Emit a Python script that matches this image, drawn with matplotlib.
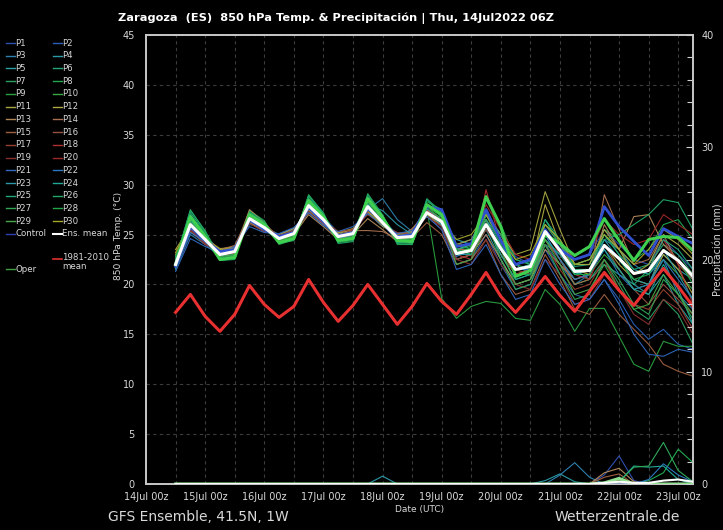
import matplotlib
matplotlib.use('Agg')
import matplotlib.pyplot as plt
import matplotlib.dates as mdates
from matplotlib.lines import Line2D
from matplotlib.ticker import MultipleLocator
import pandas as pd

# ---------------- data ----------------
TIMES = pd.date_range('2022-07-14 12:00', periods=36, freq='6h')

CLIM = [17.2, 19.0, 16.8, 15.3, 17.0, 19.9, 18.0, 16.7, 17.8, 20.5, 18.2, 16.3,
        17.9, 20.0, 18.0, 16.0, 17.8, 20.1, 18.3, 17.0, 19.0, 21.2, 18.8, 17.2,
        18.9, 20.8, 18.9, 17.3, 19.3, 21.2, 19.4, 17.9, 19.8, 21.6, 19.8, 17.8]

ENS_MEAN = [22.0, 26.0, 24.5, 23.0, 23.3, 26.6, 25.7, 24.6, 25.1, 27.9, 26.5, 24.8,
            25.1, 27.8, 26.2, 24.7, 24.8, 27.2, 26.3, 23.1, 23.4, 26.0, 23.6, 21.5,
            21.8, 25.3, 23.4, 21.3, 21.4, 23.9, 22.6, 21.1, 21.4, 23.4, 22.4, 20.8]

CONTROL = [21.8, 25.8, 24.4, 23.3, 23.5, 26.5, 25.5, 24.8, 25.2, 27.7, 26.3, 24.9,
           25.2, 27.6, 26.3, 24.8, 25.0, 27.8, 27.5, 23.8, 24.1, 27.5, 24.4, 22.0,
           22.5, 25.5, 23.5, 22.5, 23.0, 27.8, 25.8, 24.3, 22.9, 25.6, 24.8, 24.1]

OPER = [22.0, 26.8, 24.8, 22.5, 22.7, 27.0, 26.0, 24.2, 24.6, 28.4, 26.8, 24.4,
        24.6, 28.6, 26.7, 24.4, 24.3, 28.0, 27.0, 23.1, 23.5, 28.8, 25.8, 20.8,
        21.4, 25.0, 24.1, 22.9, 23.8, 26.6, 24.4, 22.4, 24.5, 24.8, 24.7, 23.4]

P1 = [21.8, 25.5, 24.2, 23.2, 23.6, 26.2, 25.4, 24.9, 25.5, 27.5, 26.0, 24.5, 25.0, 27.4, 26.5, 25.0, 25.2, 27.0,
      26.5, 24.0, 24.5, 27.2, 25.0, 22.8, 22.0, 25.0, 23.5, 22.5, 23.0, 25.5, 24.0, 22.5, 22.0, 24.5, 23.0, 21.5]
P2 = [22.3, 26.3, 24.8, 23.4, 23.0, 26.9, 26.0, 24.3, 24.8, 28.2, 26.8, 25.2, 25.4, 28.1, 26.0, 24.4, 24.5, 27.5,
      25.8, 22.0, 22.5, 25.0, 22.0, 19.5, 20.0, 23.5, 21.0, 19.0, 18.5, 20.5, 18.5, 16.0, 14.5, 15.5, 14.0, 13.5]
P3 = [21.5, 25.0, 24.0, 22.8, 23.5, 26.0, 25.8, 25.0, 25.6, 27.4, 26.3, 24.9, 25.4, 27.5, 28.6, 26.5, 25.3, 27.0,
      26.8, 23.8, 24.0, 26.5, 24.5, 22.0, 21.0, 24.0, 22.0, 20.0, 21.0, 24.5, 23.5, 22.0, 21.0, 22.5, 19.0, 17.5]
P4 = [22.5, 26.6, 25.0, 23.3, 23.1, 26.4, 25.5, 24.4, 24.9, 28.0, 26.6, 24.6, 24.9, 27.9, 26.1, 24.5, 24.6, 27.4,
      26.0, 22.5, 23.0, 25.5, 24.0, 22.0, 22.5, 26.0, 24.5, 22.0, 22.5, 25.0, 23.5, 21.5, 21.0, 23.0, 21.5, 20.5]
P5 = [22.2, 25.8, 24.4, 22.9, 23.2, 26.5, 25.8, 24.7, 25.2, 27.6, 26.4, 25.0, 25.3, 27.7, 26.3, 24.9, 25.0, 27.1,
      26.4, 24.5, 24.0, 25.5, 22.5, 20.0, 20.5, 24.0, 23.0, 21.5, 20.5, 22.0, 21.0, 20.0, 19.0, 21.0, 18.0, 16.0]
P6 = [22.6, 27.2, 25.2, 22.6, 22.8, 27.2, 26.2, 24.2, 24.6, 28.6, 27.0, 24.5, 24.6, 28.4, 26.8, 24.3, 24.2, 28.0,
      27.0, 23.5, 23.8, 27.0, 24.5, 22.0, 22.3, 26.5, 24.0, 21.8, 22.0, 25.0, 23.0, 21.5, 22.0, 24.0, 23.0, 21.0]
P7 = [21.9, 26.8, 24.8, 22.5, 22.9, 27.0, 25.9, 24.3, 24.7, 28.5, 26.7, 24.4, 24.7, 28.6, 26.6, 24.2, 24.1, 27.9,
      26.8, 23.0, 23.5, 26.5, 23.0, 20.5, 21.0, 25.0, 22.5, 20.0, 20.5, 22.5, 20.0, 17.5, 16.5, 18.5, 17.0, 14.0]
P8 = [22.4, 27.4, 25.4, 22.7, 22.6, 27.4, 26.4, 24.0, 24.5, 29.0, 27.1, 24.2, 24.4, 29.1, 27.0, 24.0, 24.0, 28.3,
      27.5, 24.0, 24.0, 28.5, 26.0, 22.5, 22.0, 26.0, 24.5, 22.0, 22.0, 25.5, 24.5, 22.5, 23.5, 26.0, 26.5, 24.5]
P9 = [22.0, 26.5, 24.6, 22.9, 23.0, 26.8, 25.6, 24.5, 24.8, 28.3, 26.4, 24.6, 24.8, 28.2, 26.4, 24.5, 24.5, 27.6,
      18.6, 16.6, 17.8, 18.3, 18.1, 16.6, 16.4, 19.5, 18.0, 15.3, 17.6, 17.6, 14.8, 12.0, 11.3, 14.3, 13.8, 13.8]
P10 = [22.3, 26.2, 24.7, 23.1, 23.4, 26.5, 25.6, 24.8, 25.3, 27.8, 26.4, 25.0, 25.2, 27.6, 26.2, 24.8, 24.9, 27.3,
       26.0, 23.5, 23.0, 27.0, 24.5, 22.0, 21.5, 24.5, 22.5, 20.5, 21.0, 23.0, 21.5, 19.5, 20.0, 22.5, 21.0, 19.5]
P11 = [23.0, 26.0, 24.3, 23.5, 23.8, 26.3, 25.4, 24.9, 25.4, 27.6, 26.2, 25.1, 25.5, 27.3, 25.9, 25.0, 25.2, 27.0,
       26.3, 24.0, 24.5, 27.0, 25.0, 23.0, 23.5, 29.3, 25.5, 22.0, 22.0, 25.5, 23.5, 21.0, 22.0, 25.0, 24.0, 22.5]
P12 = [23.5, 25.8, 24.6, 23.6, 23.7, 26.2, 25.3, 25.0, 25.6, 27.3, 26.0, 25.2, 25.6, 27.2, 25.8, 25.1, 25.3, 26.8,
       26.0, 23.5, 24.0, 26.5, 23.5, 21.0, 21.5, 28.0, 24.0, 21.5, 21.0, 24.0, 22.0, 20.5, 20.0, 23.0, 21.5, 19.0]
P13 = [22.8, 25.6, 24.5, 23.3, 23.5, 27.5, 26.2, 24.6, 25.0, 27.0, 25.8, 24.5, 25.0, 26.6, 25.5, 24.3, 25.5, 27.5,
       26.5, 22.5, 23.0, 25.0, 22.5, 20.0, 20.5, 23.5, 22.0, 20.5, 21.0, 26.0, 23.5, 26.8, 27.0, 24.0, 22.5, 21.0]
P14 = [22.4, 25.3, 24.1, 23.5, 23.9, 27.0, 26.0, 24.8, 25.2, 27.2, 26.0, 24.9, 25.4, 25.4, 25.3, 24.6, 25.6, 27.0,
       26.0, 23.5, 23.5, 27.0, 25.0, 21.5, 22.0, 24.5, 22.5, 20.0, 20.5, 29.0, 25.5, 22.0, 22.5, 25.0, 22.0, 20.5]
P15 = [22.6, 25.9, 24.4, 23.2, 23.4, 26.4, 25.5, 24.7, 25.0, 27.7, 26.3, 24.7, 25.0, 27.5, 26.1, 24.5, 24.7, 26.2,
       25.0, 22.0, 22.5, 24.5, 21.0, 19.0, 19.5, 23.0, 20.5, 17.5, 17.0, 19.0, 17.0, 15.5, 14.0, 12.0, 11.3, 10.8]
P16 = [22.1, 25.7, 24.3, 23.1, 23.3, 26.6, 25.7, 24.5, 25.0, 27.8, 26.5, 24.8, 25.1, 27.6, 26.3, 24.6, 24.8, 27.1,
       26.2, 23.0, 23.5, 26.0, 23.0, 21.0, 21.5, 24.5, 22.5, 20.5, 21.0, 24.0, 21.5, 19.5, 18.0, 20.0, 18.5, 17.0]
P17 = [21.7, 25.4, 24.1, 23.0, 23.2, 26.5, 25.9, 24.9, 25.3, 27.4, 26.4, 25.3, 25.5, 27.0, 26.0, 25.2, 25.1, 26.8,
       25.8, 22.5, 23.0, 25.5, 23.5, 21.5, 21.0, 24.0, 21.5, 19.5, 20.0, 22.5, 19.5, 18.0, 17.5, 19.5, 18.0, 15.5]
P18 = [22.2, 26.0, 24.8, 23.3, 23.2, 26.3, 25.5, 24.6, 24.9, 27.6, 26.5, 24.9, 25.0, 27.3, 26.4, 24.8, 24.6, 27.4,
       26.4, 23.0, 22.5, 29.5, 24.0, 21.0, 21.5, 25.5, 23.0, 21.0, 20.5, 24.0, 22.5, 21.0, 21.5, 24.5, 22.0, 18.0]
P19 = [22.0, 25.5, 24.0, 23.4, 23.6, 26.1, 25.3, 24.9, 25.4, 27.3, 26.1, 25.0, 25.4, 27.4, 26.2, 24.9, 25.1, 26.9,
       25.5, 22.5, 22.0, 24.5, 22.0, 20.0, 19.5, 22.5, 21.0, 18.0, 18.5, 21.0, 19.5, 17.0, 16.0, 18.5, 17.5, 15.0]
P20 = [22.5, 26.2, 24.7, 23.0, 23.1, 26.7, 25.8, 24.4, 24.8, 27.9, 26.7, 24.7, 24.9, 27.9, 26.5, 24.6, 24.7, 27.3,
       26.6, 24.0, 24.0, 28.0, 25.5, 23.0, 22.5, 26.0, 24.0, 22.5, 23.0, 26.5, 25.0, 24.0, 24.5, 27.0, 26.0, 25.0]
P21 = [21.3, 24.6, 23.8, 23.2, 23.8, 25.8, 25.2, 25.1, 25.7, 27.2, 25.9, 25.3, 25.8, 27.1, 25.9, 25.1, 25.4, 26.8,
       25.5, 21.5, 22.0, 24.0, 21.0, 18.5, 19.0, 22.5, 20.0, 18.0, 18.5, 20.5, 18.0, 15.0, 13.0, 12.8, 13.5, 13.2]
P22 = [21.9, 25.2, 24.3, 22.9, 23.3, 26.3, 25.6, 24.6, 25.1, 27.6, 26.2, 24.7, 25.1, 27.7, 26.3, 24.7, 24.8, 27.0,
       26.1, 22.8, 23.5, 26.0, 23.5, 21.5, 21.5, 25.0, 22.5, 20.5, 21.0, 23.5, 21.0, 19.5, 20.0, 22.5, 20.5, 18.5]
P23 = [22.1, 26.1, 24.5, 22.8, 23.0, 26.6, 25.7, 24.5, 25.0, 28.1, 26.6, 24.6, 24.9, 28.0, 27.4, 26.0, 25.0, 27.2,
       26.0, 23.0, 23.0, 26.5, 24.0, 21.5, 22.0, 25.5, 23.5, 21.0, 21.5, 24.5, 22.5, 20.5, 20.0, 23.5, 21.0, 18.5]
P24 = [22.7, 26.4, 24.9, 23.1, 23.2, 26.9, 25.9, 24.5, 24.9, 28.2, 26.8, 24.8, 25.0, 28.0, 26.4, 24.4, 24.6, 27.6,
       26.5, 23.5, 24.0, 26.0, 23.0, 20.5, 21.0, 24.5, 23.0, 21.0, 21.5, 23.5, 21.5, 19.5, 19.0, 22.0, 19.5, 16.0]
P25 = [22.2, 27.0, 25.0, 22.5, 22.7, 27.1, 26.1, 24.2, 24.6, 28.8, 27.0, 24.3, 24.5, 28.8, 26.8, 24.2, 24.3, 28.5,
       27.0, 23.0, 23.5, 27.5, 24.5, 21.5, 22.0, 26.5, 24.5, 21.5, 21.5, 25.0, 23.0, 20.0, 21.5, 24.5, 23.5, 21.5]
P26 = [22.5, 27.5, 25.3, 22.4, 22.5, 27.3, 26.3, 24.1, 24.4, 28.9, 27.2, 24.1, 24.3, 29.0, 26.9, 24.1, 24.0, 28.6,
       27.2, 23.5, 23.0, 27.0, 25.0, 22.5, 22.0, 26.0, 24.0, 22.0, 22.5, 24.5, 25.0, 26.0, 27.0, 28.5, 28.2, 25.5]
P27 = [21.6, 26.3, 24.6, 22.7, 22.9, 26.9, 25.9, 24.3, 24.6, 28.4, 26.6, 24.4, 24.6, 28.5, 26.5, 24.3, 24.4, 28.0,
       27.0, 23.0, 23.5, 26.5, 22.5, 19.5, 20.0, 24.0, 21.0, 18.5, 19.0, 22.5, 20.5, 18.0, 17.0, 20.5, 19.0, 16.5]
P28 = [22.8, 26.9, 25.1, 22.6, 22.8, 27.0, 26.0, 24.4, 24.8, 28.6, 26.9, 24.4, 24.7, 28.4, 26.7, 24.4, 24.5, 27.9,
       26.8, 24.0, 23.5, 27.0, 24.0, 21.0, 21.0, 25.5, 23.5, 21.0, 21.0, 24.0, 22.5, 20.5, 21.0, 23.5, 22.5, 20.0]
P29 = [22.1, 26.7, 24.9, 22.8, 23.0, 26.9, 26.1, 24.4, 24.9, 28.5, 26.7, 24.5, 24.8, 28.3, 26.6, 24.5, 24.6, 27.8,
       26.5, 22.0, 22.5, 26.0, 23.5, 20.0, 20.5, 24.5, 22.0, 19.0, 19.5, 22.0, 19.5, 17.5, 18.0, 21.0, 19.0, 17.0]
P30 = [23.2, 25.9, 24.5, 23.5, 23.6, 26.4, 25.5, 24.8, 25.3, 27.5, 26.2, 25.0, 25.3, 27.4, 26.0, 24.9, 25.1, 27.0,
       26.2, 24.5, 25.0, 27.0, 24.5, 22.5, 23.0, 26.0, 24.5, 22.0, 22.5, 25.0, 23.5, 22.0, 23.5, 25.5, 24.5, 23.0]

MEMBERS = [P1, P2, P3, P4, P5, P6, P7, P8, P9, P10, P11, P12, P13, P14, P15,
           P16, P17, P18, P19, P20, P21, P22, P23, P24, P25, P26, P27, P28, P29, P30]
MEMBER_NAMES = ['P%d' % (i + 1) for i in range(30)]
MEMBER_COLORS = ['#3050b0', '#2a60b8', '#2d80b0', '#2a9aa8', '#2aa0a0', '#22a878',
                 '#2aa060', '#20a850', '#2aa040', '#3aa840', '#a8a840', '#b0a840',
                 '#b08858', '#a87050', '#a06040', '#985040', '#984030', '#b03030',
                 '#883030', '#a02828', '#3068c0', '#2a78c0', '#2a98a8', '#20a898',
                 '#20a878', '#20a868', '#30a858', '#20a848', '#48a848', '#a8a828']

# precipitation (mm / 6 h)
PR_ZERO = [0.0] * 36
PR_P1 = [0.0] * 29 + [0.8, 2.5, 0.3, 0.0, 0.0, 0.0, 0.0]
PR_P3 = [0.0] * 25 + [0.0, 0.8, 1.9, 0.6, 0.0, 0.0, 0.0, 0.0, 0.0, 0.0, 0.0]
PR_P8 = [0.0] * 31 + [0.0, 0.3, 1.0, 3.1, 1.9]
PR_P11 = [0.0] * 29 + [0.1, 0.3, 0.0, 0.0, 0.0, 0.0, 0.0]
PR_P13 = [0.0] * 28 + [0.0, 1.0, 1.4, 0.2, 0.0, 0.0, 0.0, 0.0]
PR_P15 = [0.0] * 28 + [0.0, 0.6, 0.9, 0.0, 0.0, 0.0, 0.0, 0.0]
PR_P22 = [0.0] * 31 + [0.0, 0.4, 1.8, 0.8, 0.2]
PR_P23 = [0.0] * 13 + [0.0, 0.7, 0.0] + [0.0] * 9 + [0.3, 0.9, 0.2, 0.0, 0.0, 0.0, 0.0, 0.0, 0.0, 0.0, 0.0]
PR_P24 = [0.0] * 29 + [0.0, 0.2, 1.6, 1.5, 1.6, 0.4, 0.0]
PR_P27 = [0.0] * 29 + [0.0, 0.2, 1.5, 1.6, 3.7, 1.2, 0.2]
PR_MEAN = [0.0] * 29 + [0.1, 0.2, 0.1, 0.1, 0.3, 0.4, 0.2]
PR_OPER = [0.0] * 29 + [0.1, 0.5, 0.0, 0.0, 0.0, 0.0, 0.0]
PRECIP = {'P1': PR_P1, 'P3': PR_P3, 'P8': PR_P8, 'P11': PR_P11, 'P13': PR_P13,
          'P15': PR_P15, 'P22': PR_P22, 'P23': PR_P23, 'P24': PR_P24, 'P27': PR_P27}

# ---------------- figure ----------------
W, H = 723, 530
fig = plt.figure(figsize=(W / 100, H / 100), dpi=100, facecolor='black')
ax = fig.add_axes([146 / W, 1 - 484 / H, (693 - 146) / W, (484 - 35) / H])
ax.set_facecolor('black')
ax2 = ax.twinx()

TXT = '#d8d8d8'

for name, vals, col in zip(MEMBER_NAMES, MEMBERS, MEMBER_COLORS):
    ax.plot(TIMES, vals, color=col, lw=0.8, alpha=0.95, zorder=2)
ax.plot(TIMES, CONTROL, color='#3050d0', lw=2.0, zorder=3)
ax.plot(TIMES, OPER, color='#40d050', lw=2.2, zorder=4)
ax.plot(TIMES, ENS_MEAN, color='white', lw=2.2, zorder=5)
ax.plot(TIMES, CLIM, color='#e83030', lw=2.2, zorder=6)

# precipitation lines
for name, col in zip(MEMBER_NAMES, MEMBER_COLORS):
    ax2.plot(TIMES, PRECIP.get(name, PR_ZERO), color=col, lw=0.8, zorder=2)
ax2.plot(TIMES, PR_ZERO, color='#3050d0', lw=1.0, zorder=3)
ax2.plot(TIMES, PR_OPER, color='#90e090', lw=2.2, zorder=4)
ax2.plot(TIMES, PR_MEAN, color='white', lw=1.5, zorder=5)

# axes limits & ticks
ax.set_xlim(pd.Timestamp('2022-07-14 00:00'), pd.Timestamp('2022-07-23 06:00'))
ax.set_ylim(0, 45)
ax2.set_ylim(0, 40)
ax.yaxis.set_major_locator(MultipleLocator(5))
ax.xaxis.set_major_locator(mdates.DayLocator())
ax.xaxis.set_minor_locator(mdates.HourLocator(byhour=[12]))
ax.xaxis.set_major_formatter(mdates.DateFormatter('%d%b %Hz'))
ax.tick_params(axis='y', length=0, pad=8, labelsize=7, labelcolor=TXT)
ax.tick_params(axis='x', which='both', length=0, pad=6, labelsize=7, labelcolor=TXT)
ax2.yaxis.set_major_locator(MultipleLocator(10))
ax2.yaxis.set_minor_locator(MultipleLocator(2))
ax2.tick_params(axis='y', which='major', direction='in', length=5, width=0.8,
                color='#d0d0d0', pad=6, labelsize=7, labelcolor=TXT)
ax2.tick_params(axis='y', which='minor', direction='in', length=4, width=0.8, color='#d0d0d0')

gkw = dict(color='#3c3c3c', linestyle=(0, (3, 3)), linewidth=0.8)
ax.grid(True, which='major', axis='both', **gkw)
ax.grid(True, which='minor', axis='x', **gkw)
ax.set_axisbelow(True)

for a in (ax, ax2):
    for s in a.spines.values():
        s.set_color('#c8c8c8')
        s.set_linewidth(1.2)

ax.set_xlabel('Date (UTC)', color=TXT, fontsize=6.5, labelpad=2)
fig.text(118.5 / W, 1 - 236 / H, '850 hPa Temp. (°C)', rotation=90, color=TXT,
         fontsize=6.6, ha='center', va='center')
fig.text(718 / W, 1 - 250 / H, 'Precipitación (mm)', rotation=90, color=TXT,
         fontsize=7, ha='center', va='center')

fig.text(118 / W, 1 - 18 / H,
         'Zaragoza  (ES)  850 hPa Temp. & Precipitación | Thu, 14Jul2022 06Z',
         color='white', fontsize=8.2, fontweight='bold', ha='left', va='center')
fig.text(108 / W, 1 - 517 / H, 'GFS Ensemble, 41.5N, 1W', color=TXT,
         fontsize=10, ha='left', va='center')
fig.text(680 / W, 1 - 517 / H, 'Wetterzentrale.de', color=TXT,
         fontsize=10, ha='right', va='center')

# ---------------- legend (manual) ----------------
LEG_FS = 6.2


def leg_entry(xl, y, col, label, lw=1.0):
    fig.add_artist(Line2D([xl / W, (xl + 9) / W], [1 - y / H, 1 - y / H],
                          color=col, lw=lw, transform=fig.transFigure))
    fig.text((xl + 9.5) / W, 1 - y / H, label, color=TXT, fontsize=LEG_FS,
             ha='left', va='center')


row0, step = 43, 12.73
for i, (name, col) in enumerate(zip(MEMBER_NAMES, MEMBER_COLORS)):
    r = i // 2
    xl = 6 if i % 2 == 0 else 53
    leg_entry(xl, row0 + r * step, col, name)
leg_entry(6, 234, '#3040b0', 'Control')
leg_entry(53, 234, 'white', 'Ens. mean', lw=1.5)
fig.add_artist(Line2D([53 / W, 62 / W], [1 - 259 / H, 1 - 259 / H], color='#e03030',
                      lw=1.2, transform=fig.transFigure))
fig.text(62.5 / W, 1 - 253 / H, '1981-2010\nmean', color=TXT, fontsize=LEG_FS,
         ha='left', va='top', linespacing=0.95)
leg_entry(6, 269, '#40a040', 'Oper')

fig.savefig('out.png', dpi=100, facecolor='black')
